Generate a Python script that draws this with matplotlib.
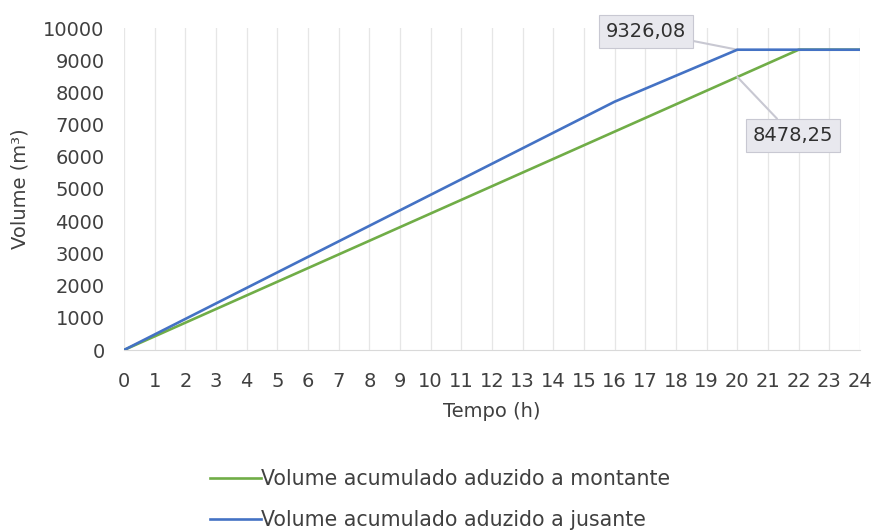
import matplotlib
matplotlib.use("Agg")
import matplotlib.pyplot as plt

hours = list(range(0, 25))
montante = [0, 423.91, 847.83, 1271.74, 1695.65, 2119.56, 2543.48, 2967.39, 3391.30,
            3815.21, 4239.13, 4663.04, 5086.95, 5510.86, 5934.78, 6358.69, 6782.60,
            7206.51, 7630.43, 8054.34, 8478.25, 8902.16, 9326.08, 9326.08, 9326.08]
jusante = [0, 482, 964, 1446, 1928, 2410, 2892, 3374, 3856, 4338, 4820, 5302, 5784,
           6266, 6748, 7230, 7712, 8115.5, 8519, 8922.6, 9326.08, 9326.08, 9326.08,
           9326.08, 9326.08]
labels = ["Volume acumulado aduzido a montante", "Volume acumulado aduzido a jusante"]
yticks = [0, 1000, 2000, 3000, 4000, 5000, 6000, 7000, 8000, 9000, 10000]

plt.rcParams['font.family'] = ['DejaVu Sans']
txt = '#404040'
fs = 14

fig = plt.figure(figsize=(8.76, 5.31), dpi=100)
ax = fig.add_axes([124/876, 1-350/531, (860-124)/876, (350-28)/531])

l1, = ax.plot(hours, montante, color='#70AD47', lw=1.9, label=labels[0], zorder=3)
l2, = ax.plot(hours, jusante, color='#4472C4', lw=1.9, label=labels[1], zorder=4)

ax.set_xlim(0, 24)
ax.set_ylim(0, 10000)
ax.set_xticks(hours)
ax.set_yticks(yticks)
ax.tick_params(axis='x', length=0, labelsize=fs, colors=txt, pad=16)
ax.tick_params(axis='y', length=0, labelsize=fs, colors=txt, pad=14)
for s in ['top', 'right', 'left']:
    ax.spines[s].set_visible(False)
ax.spines['bottom'].set_color('#d9d9d9')
ax.grid(axis='x', color='#e6e6e6', lw=0.9)
ax.set_axisbelow(True)
ax.set_xlabel("Tempo (h)", fontsize=fs, color=txt, labelpad=8)
ax.set_ylabel("Volume (m³)", fontsize=fs, color=txt, labelpad=10)

bbox = dict(boxstyle='square,pad=0.35', fc='#e8e8ee', ec='#c8c8d2', lw=0.8)
ax.annotate("9326,08", xy=(20, jusante[20]), xytext=(-66, 13), textcoords='offset points',
            ha='center', va='center', fontsize=fs, color='#303030', bbox=bbox,
            arrowprops=dict(arrowstyle='-', color='#c8c8d2', lw=1.5, shrinkA=0, shrinkB=0))
ax.annotate("8478,25", xy=(20, montante[20]), xytext=(40, -42), textcoords='offset points',
            ha='center', va='center', fontsize=fs, color='#303030', bbox=bbox,
            arrowprops=dict(arrowstyle='-', color='#c8c8d2', lw=1.5, shrinkA=0, shrinkB=0))

fig.legend(handles=[l1, l2], loc='upper left', bbox_to_anchor=(202/876, 1-461/531),
           frameon=False, fontsize=14.8, labelcolor=txt, handlelength=2.45,
           handletextpad=0.0, labelspacing=1.0, borderaxespad=0)

fig.savefig("out.png", dpi=100)
